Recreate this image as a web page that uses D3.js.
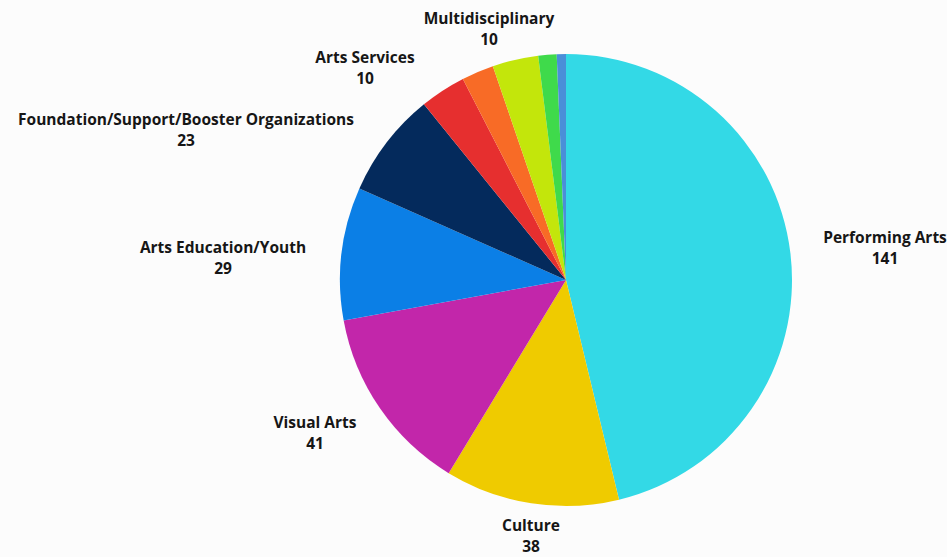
<!DOCTYPE html>
<html>
<head>
<meta charset="utf-8">
<script src="https://cdn.jsdelivr.net/npm/d3@7"></script>
<style>
  body { margin: 0; background: #fcfcfc; }
  text { font-family: "Open Sans", sans-serif; font-weight: 700; fill: #161616; }
</style>
</head>
<body>
<div id="chart"></div>
<script>
// chart data, clockwise from 12 o'clock
var categories = ["Performing Arts", "Culture", "Visual Arts", "Arts Education/Youth",
  "Foundation/Support/Booster Organizations", "Arts Services", "Other A",
  "Multidisciplinary", "Other B", "Other C"];
var values = [141, 38, 41, 29, 23, 10, 7, 10, 4, 2];
var showLabel = [true, true, true, true, true, true, false, true, false, false];
var colors = ["#33d9e6", "#efcb00", "#c226aa", "#0b7fe6", "#042a5c",
  "#e62f2f", "#f86b26", "#c3e60b", "#3fda4b", "#4a8fd8"];

// label anchor points (centre of the first line)
var labelPos = {
  "Performing Arts": [885, 243],
  "Culture": [531, 531],
  "Visual Arts": [315, 428],
  "Arts Education/Youth": [223, 253],
  "Foundation/Support/Booster Organizations": [186, 125],
  "Arts Services": [365, 63],
  "Multidisciplinary": [489, 24]
};

var svgWidth = 947;
var svgHeight = 557;
var cx = 566, cy = 280, radius = 226;

var svg = d3.select("#chart")
  .append("svg")
  .attr("width", svgWidth)
  .attr("height", svgHeight);

var data = categories.map(function(c, i) {
  return { name: c, value: values[i], color: colors[i], label: showLabel[i] };
});

var pie = d3.pie()
  .value(d => d.value)
  .sort(null);

var arc = d3.arc()
  .innerRadius(0)
  .outerRadius(radius);

var pieGroup = svg.append("g")
  .attr("transform", `translate(${cx}, ${cy})`);

pieGroup.selectAll("path")
  .data(pie(data))
  .enter()
  .append("path")
  .attr("d", arc)
  .attr("fill", d => d.data.color);

// labels: name on first line, value below
var labels = svg.selectAll("g.label")
  .data(data.filter(d => d.label))
  .enter()
  .append("g")
  .attr("class", "label")
  .attr("transform", d => `translate(${labelPos[d.name][0]}, ${labelPos[d.name][1]})`);

labels.append("text")
  .attr("text-anchor", "middle")
  .attr("font-size", "15.5px")
  .text(d => d.name);

labels.append("text")
  .attr("text-anchor", "middle")
  .attr("y", 21)
  .attr("font-size", "15.5px")
  .text(d => d.value);
</script>
</body>
</html>
